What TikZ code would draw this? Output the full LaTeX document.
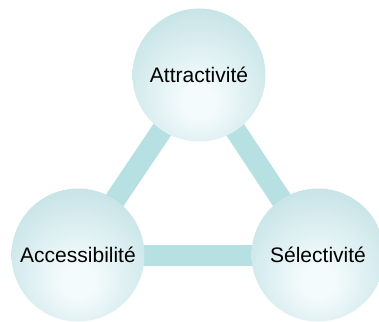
\documentclass[tikz,border=0pt]{standalone}
\usepackage{fontspec}
\setmainfont{Liberation Sans}
\usepackage{tikz}

\definecolor{bubbleout}{HTML}{A6D3D8}
\definecolor{bubblein}{HTML}{F4FBFC}
\definecolor{barcol}{HTML}{B7E0E3}
\pgfdeclareradialshading{bubble}{\pgfpoint{0bp}{-11bp}}{%
  color(0bp)=(bubblein); color(6bp)=(bubblein); color(50bp)=(bubbleout); color(75bp)=(bubbleout)}
\pgfdeclarelayer{background}
\pgfsetlayers{background,main}

\begin{document}
\begin{tikzpicture}[x=1pt, y=-1pt]
% Definition of styles:
\tikzset{%
  pole/.style = {circle, shading=bubble, minimum size = 133pt, inner sep = 0pt, font=\fontsize{21}{25}\selectfont},
  link/.style = {draw=barcol, line width = 21pt}
}
\useasboundingbox (0,0) rectangle (379,321);

\draw
	node [pole] (Attr) at (199,75) {Attractivité}
	node [pole] (Acc)  at (78,255) {Accessibilité}
	node [pole] (Sel)  at (318,255) {Sélectivité};

\begin{pgfonlayer}{background}
\draw[link](Acc.center) -- (Attr.center);
\draw[link](Attr.center) -- (Sel.center);
\draw[link](Acc.center) -- (Sel.center);
\end{pgfonlayer}

\end{tikzpicture}
\end{document}
